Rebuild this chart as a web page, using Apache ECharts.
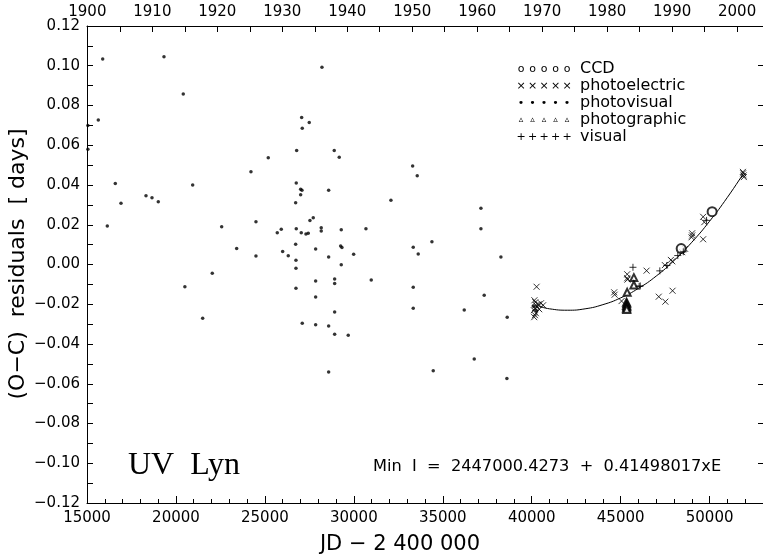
<!DOCTYPE html>
<html>
<head>
<meta charset="utf-8">
<script src="https://cdn.jsdelivr.net/npm/echarts@6/dist/echarts.min.js"></script>
<style>
html,body{margin:0;padding:0;background:#fff}
#chart{width:763px;height:558px}
</style>
</head>
<body>
<div id="chart"></div>
<script>
// O-C residuals of UV Lyn minima, JD - 2400000 versus residual in days
const photovisual = [
  [15050,0.070],[15050,0.058],[15635,0.0727],[15882,0.1034],[19327,0.1045],[20412,0.0858],
  [16590,0.0408],[16911,0.0308],[18316,0.0346],[18653,0.0336],[19007,0.0316],[20940,0.0400],
  [24217,0.0467],[25189,0.0537],[28207,0.0993],[27066,0.0740],[27100,0.0685],[27493,0.0715],
  [26785,0.0574],[28898,0.0574],[29179,0.0539],[26763,0.0410],[27010,0.0378],[27083,0.0373],
  [27010,0.0351],[28584,0.0373],[26729,0.0311],[33305,0.0495],[33563,0.0447],[32085,0.0323],
  [27718,0.0235],[27533,0.0222],[16141,0.0194],[22570,0.0190],[24498,0.0215],[23413,0.0081],
  [24498,0.0043],[25695,0.0160],[25920,0.0177],[25998,0.0066],[26313,0.0044],[26763,0.0180],
  [27044,0.0160],[27308,0.0153],[27437,0.0157],[28167,0.0185],[28167,0.0169],[26729,0.0102],
  [27853,0.0078],[29292,0.0175],[29258,0.0093],[29331,0.0085],[29989,0.0051],[28584,0.0038],
  [29292,-0.0001],[26746,0.0021],[26746,-0.0019],[26746,-0.0120],[27853,-0.0083],[27853,-0.0163],
  [28921,-0.0073],[28921,-0.0095],[28921,-0.0239],[27100,-0.0296],[27853,-0.0303],[28584,-0.0309],
  [28921,-0.0351],[29685,-0.0356],[28584,-0.0541],[20502,-0.0112],[22042,-0.0044],[21502,-0.0271],
  [30680,0.0180],[30978,-0.0078],[33338,0.0087],[33619,0.0053],[33338,-0.0115],[33338,-0.0220],
  [37143,0.0283],[37143,0.0180],[34389,0.0115],[38267,0.0038],[37328,-0.0155],[36205,-0.0229],
  [38621,-0.0266],[36767,-0.0475],[34463,-0.0534],[38604,-0.0574],[40100,-0.0210],[40250,-0.0232]
];
const photoelectric = [
  [40273,-0.0112],[40150,-0.0180],[40200,-0.0190],[40250,-0.0205],[40300,-0.0215],[40180,-0.0220],
  [40120,-0.0230],[40230,-0.0245],[40180,-0.0255],[40140,-0.0265],[40380,-0.0200],[40520,-0.0195],
  [40640,-0.0205],[40420,-0.0225],[44635,-0.0140],[44660,-0.0152],[45365,-0.0049],[45365,-0.0069],
  [45380,-0.0076],[45050,-0.0184],[46455,-0.0031],[47140,-0.0162],[47510,-0.0187],[47916,-0.0132],
  [47484,-0.0003],[47821,0.0023],[47900,0.0016],[48620,0.0079],[48460,0.0062],[49017,0.0157],
  [49017,0.0146],[48984,0.0137],[49636,0.0240],[49700,0.0213],[49636,0.0127],[51884,0.0459],
  [51910,0.0448],[51923,0.0440],[51870,0.0466]
];
const ccd = [[48400,0.0080],[50140,0.0266]];
const photographic = [
  [45741,-0.0066],[45741,-0.0103],[45365,-0.0140],[45330,-0.0190],[45340,-0.0198],
  [45330,-0.0206],[45345,-0.0213],[45330,-0.0220],[45340,-0.0226]
];
const visual = [
  [45690,-0.0014],[46039,-0.0110],[47200,-0.0032],[48210,0.0045],[47596,-0.0005],
  [48520,0.0064],[49827,0.0222],[46100,-0.0108]
];
// quadratic ephemeris fit through the modern minima
const fitCurve = [
  [40400,-0.0210],[41000,-0.0223],[42000,-0.0230],[43000,-0.0223],[44000,-0.0202],
  [45000,-0.0168],[46000,-0.0120],[47000,-0.0058],[48000,0.0020],[49000,0.0112],
  [50000,0.0218],[51000,0.0338],[51900,0.0458]
];

const xMajorTicks = [15000,20000,25000,30000,35000,40000,45000,50000];
const xMinorTicks = [];
for (let v = 15000; v <= 53000; v += 1000) xMinorTicks.push(v);
const yearTicks = [1900,1905,1910,1915,1920,1925,1930,1935,1940,1945,1950,1955,1960,1965,1970,1975,1980,1985,1990,1995,2000];
const yearLabels = [1900,1910,1920,1930,1940,1950,1960,1970,1980,1990,2000];

const legendNames = ['CCD','photoelectric','photovisual','photographic','visual'];
const legendGlyphs = ['o','\u00d7','\u2022','\u25b5','+'];

// calendar year <-> JD - 2400000 (1900 Jan 0.5 = JD 2415020)
const yearToJD = y => 15020 + (y - 1900) * 365.25;
const jdToYear = v => Math.round(1900 + (v - 15020) / 365.25);

const FONT = 'DejaVu Sans';
const chart = echarts.init(document.getElementById('chart'), null, {renderer: 'canvas'});

const crossPath = 'path://M0,0L10,10M10,0L0,10';
const plusPath = 'path://M5,0L5,10M0,5L10,5';

const graphics = [];
legendNames.forEach((name, i) => {
  const y = 69 + i * 17;
  for (let k = 0; k < 5; k++) {
    graphics.push({type: 'text', x: 521 + k * 11.5, y: y, style: {
      text: legendGlyphs[i], font: (i === 3 ? '9px ' : '11px ') + FONT,
      fill: '#000', align: 'center', verticalAlign: 'middle'}});
  }
  graphics.push({type: 'text', x: 580, y: y, style: {
    text: name, font: '16px ' + FONT, fill: '#000', align: 'left', verticalAlign: 'middle'}});
});
graphics.push({type: 'text', x: 128, y: 466, style: {
  text: 'UV  Lyn', font: '32px "Liberation Serif"', fill: '#000', verticalAlign: 'middle'}});
graphics.push({type: 'text', x: 373, y: 467, style: {
  text: 'Min  I  =  2447000.4273  +  0.41498017xE', font: '16.2px ' + FONT, fill: '#000', verticalAlign: 'middle'}});
graphics.push({type: 'text', x: 400, y: 545, style: {
  text: 'JD \u2212 2 400 000', font: '21px ' + FONT, fill: '#000', align: 'center', verticalAlign: 'middle'}});
graphics.push({type: 'text', x: 18, y: 264, rotation: Math.PI / 2, style: {
  text: '(O\u2212C)  residuals  [ days]', font: '22px ' + FONT, fill: '#000', align: 'center', verticalAlign: 'middle'}});

const lineStyle = {color: '#000', width: 1};

chart.setOption({
  backgroundColor: '#fff',
  animation: false,
  grid: {left: 87, right: 0, top: 26, bottom: 55},
  xAxis: [
    {
      type: 'value', position: 'bottom', min: 15000, max: 53000,
      axisLine: {show: true, onZero: false, lineStyle: lineStyle},
      axisTick: {show: true, inside: true, length: 7, lineStyle: lineStyle, customValues: xMajorTicks},
      axisLabel: {customValues: xMajorTicks, margin: 8, color: '#000', fontFamily: FONT, fontSize: 15,
        formatter: v => String(v)},
      splitLine: {show: false}
    },
    {
      type: 'value', position: 'top', min: 15000, max: 53000,
      axisLine: {show: true, onZero: false, lineStyle: lineStyle},
      axisTick: {show: true, inside: true, length: 6, lineStyle: lineStyle, customValues: yearTicks.map(yearToJD)},
      axisLabel: {customValues: yearLabels.map(yearToJD), margin: 6, color: '#000', fontFamily: FONT, fontSize: 15,
        formatter: v => String(jdToYear(v))},
      splitLine: {show: false}
    },
    {
      type: 'value', position: 'bottom', min: 15000, max: 53000,
      axisLine: {show: false, onZero: false},
      axisTick: {show: true, inside: true, length: 4, lineStyle: lineStyle, customValues: xMinorTicks},
      axisLabel: {show: false},
      splitLine: {show: false}
    }
  ],
  yAxis: [
    {
      type: 'value', position: 'left', min: -0.12, max: 0.12, interval: 0.02,
      axisLine: {show: true, onZero: false, lineStyle: lineStyle},
      axisTick: {show: true, inside: true, length: 6, lineStyle: lineStyle},
      minorTick: {show: true, splitNumber: 2, length: 6, lineStyle: lineStyle},
      axisLabel: {margin: 7, color: '#000', fontFamily: FONT, fontSize: 15,
        formatter: v => (v < -1e-9 ? '\u2212' : '') + Math.abs(v).toFixed(2)},
      splitLine: {show: false}
    },
    {
      type: 'value', position: 'right', min: -0.12, max: 0.12, interval: 0.02,
      axisLine: {show: true, onZero: false, lineStyle: lineStyle},
      axisTick: {show: true, inside: true, length: 5, lineStyle: lineStyle},
      axisLabel: {show: false},
      splitLine: {show: false}
    }
  ],
  series: [
    {name: 'fit', type: 'line', data: fitCurve, smooth: true, showSymbol: false, symbol: 'none',
      lineStyle: {color: '#000', width: 1}, z: 1},
    {name: 'photovisual', type: 'scatter', data: photovisual, symbol: 'circle', symbolSize: 3.5,
      itemStyle: {color: '#000'}},
    {name: 'photoelectric', type: 'scatter', data: photoelectric, symbol: crossPath, symbolSize: 6,
      itemStyle: {color: 'none', borderColor: '#000', borderWidth: 1}},
    {name: 'CCD', type: 'scatter', data: ccd, symbol: 'emptyCircle', symbolSize: 9,
      itemStyle: {color: '#000', borderColor: '#000', borderWidth: 0.8}},
    {name: 'photographic', type: 'scatter', data: photographic, symbol: 'emptyTriangle', symbolSize: 7,
      itemStyle: {color: '#000', borderColor: '#000', borderWidth: 0.7}},
    {name: 'visual', type: 'scatter', data: visual, symbol: plusPath, symbolSize: 7,
      itemStyle: {color: 'none', borderColor: '#000', borderWidth: 1}}
  ],
  graphic: graphics
});
</script>
</body>
</html>
